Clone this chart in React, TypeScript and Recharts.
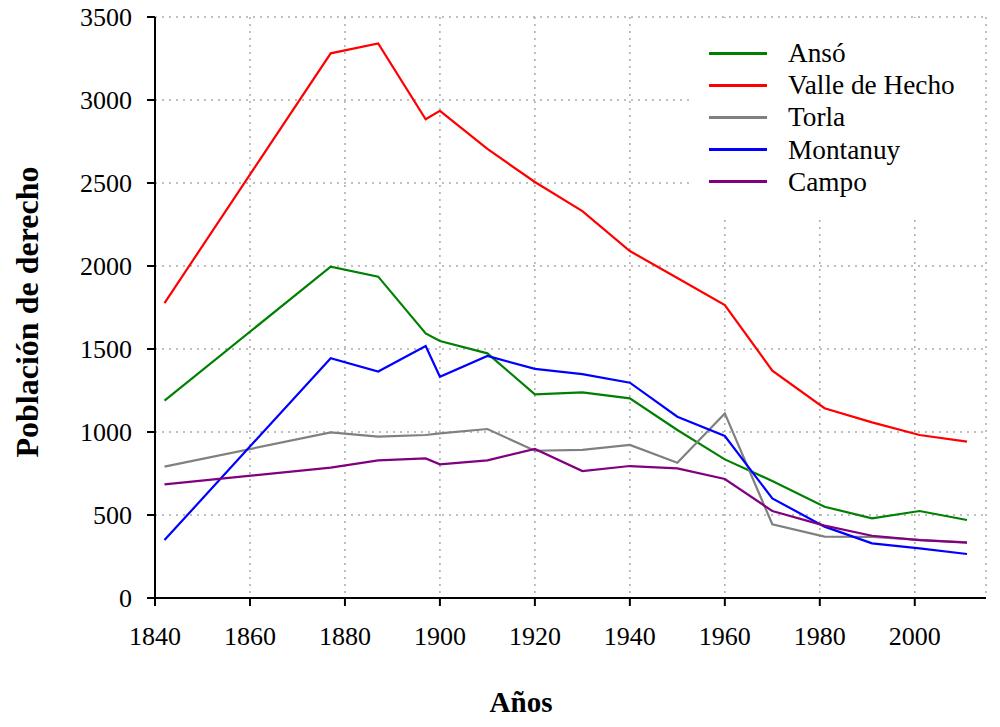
import React from 'react';
import { LineChart, Line, XAxis, YAxis, CartesianGrid, Legend } from 'recharts';

const years = [1842, 1877, 1887, 1897, 1900, 1910, 1920, 1930, 1940, 1950, 1960, 1970, 1981, 1991, 2001, 2011];
const anso = [1189, 1996, 1936, 1594, 1548, 1474, 1227, 1239, 1203, 1012, 835, 705, 550, 480, 524, 470];
const valleHecho = [1777, 3281, 3341, 2884, 2935, 2705, 2506, 2331, 2090, 1928, 1765, 1369, 1143, 1058, 982, 942];
const torla = [791, 998, 972, 982, 992, 1018, 887, 892, 922, 815, 1112, 444, 370, 368, 350, 335];
const montanuy = [349, 1444, 1364, 1518, 1333, 1458, 1380, 1349, 1297, 1092, 976, 600, 430, 329, 299, 265];
const campo = [685, 785, 829, 841, 805, 829, 898, 765, 795, 781, 717, 524, 436, 375, 349, 333];

const seriesKeys = ['anso', 'valle', 'torla', 'montanuy', 'campo'];

const xTicks = [1840, 1860, 1880, 1900, 1920, 1940, 1960, 1980, 2000];
const yTicks = [0, 500, 1000, 1500, 2000, 2500, 3000, 3500];
const xDomain = [1840, 2015];
const yDomain = [0, 3500];

const data = years.map((y, i) => ({
  year: y,
  anso: anso[i],
  valle: valleHecho[i],
  torla: torla[i],
  montanuy: montanuy[i],
  campo: campo[i],
}));

const FONT = '"Liberation Serif", Tinos, "Times New Roman", Times, "DejaVu Serif", serif';

const YTitle = () => (
  <text
    x={27}
    y={312}
    transform="rotate(-90, 27, 312)"
    textAnchor="middle"
    dominantBaseline="central"
    style={{ fontFamily: FONT, fontWeight: 'bold', fontSize: 32 }}
    fill="#000"
  >
    Población de derecho
  </text>
);

const XTitle = () => (
  <text x={521} y={712} textAnchor="middle" style={{ fontFamily: FONT, fontWeight: 'bold', fontSize: 29 }} fill="#000">
    Años
  </text>
);

const renderLegend = (props: any) => {
  const payload = [...(props.payload || [])].sort(
    (a: any, b: any) => seriesKeys.indexOf(a.dataKey) - seriesKeys.indexOf(b.dataKey)
  );
  return (
    <div style={{ position: 'relative', width: 292, height: 197, background: '#fff' }}>
      {payload.map((e: any, i: number) => (
        <div
          key={String(e.value)}
          style={{
            position: 'absolute',
            left: 16,
            top: 19 + i * 32.2,
            height: 32,
            display: 'flex',
            alignItems: 'center',
            whiteSpace: 'nowrap',
          }}
        >
          <div style={{ width: 58, height: 0, borderTop: `3px solid ${e.color}` }} />
          <span style={{ marginLeft: 21, fontFamily: FONT, fontSize: 27.3, color: '#000', lineHeight: '32px' }}>
            {e.value}
          </span>
        </div>
      ))}
    </div>
  );
};

const axisLine = { stroke: '#000', strokeWidth: 2 };
const tickStyle = { fill: '#000', fontSize: 26, style: { fontFamily: FONT } };

export default function App() {
  return (
    <div style={{ position: 'absolute', left: 0, top: 0, width: 1000, height: 727, background: '#fff', fontFamily: FONT }}>
      <LineChart width={1000} height={727} data={data} margin={{ top: 17, right: 14, left: 0, bottom: 0 }} style={{ fontFamily: FONT }}>
        <CartesianGrid stroke="#aaa" strokeDasharray="2 5" strokeWidth={1.5} />
        <XAxis
          dataKey="year"
          type="number"
          domain={xDomain}
          ticks={xTicks}
          height={129}
          axisLine={axisLine}
          tickLine={axisLine}
          tickSize={8}
          tickMargin={21}
          tick={tickStyle}
          label={<XTitle />}
        />
        <XAxis
          xAxisId="top"
          orientation="top"
          type="number"
          domain={xDomain}
          ticks={xTicks}
          height={0}
          mirror
          axisLine={axisLine}
          tickLine={axisLine}
          tickSize={8}
          tick={false}
        />
        <YAxis
          type="number"
          domain={yDomain}
          ticks={yTicks}
          width={155}
          axisLine={axisLine}
          tickLine={axisLine}
          tickSize={8}
          tickMargin={15}
          tick={tickStyle}
          label={<YTitle />}
        />
        <YAxis
          yAxisId="right"
          orientation="right"
          type="number"
          domain={yDomain}
          ticks={yTicks}
          width={0}
          mirror
          axisLine={axisLine}
          tickLine={axisLine}
          tickSize={9}
          tick={false}
        />
        <Line type="linear" dataKey="anso" name="Ansó" stroke="#008000" strokeWidth={2.2} dot={false} isAnimationActive={false} />
        <Line type="linear" dataKey="valle" name="Valle de Hecho" stroke="#ff0000" strokeWidth={2.2} dot={false} isAnimationActive={false} />
        <Line type="linear" dataKey="torla" name="Torla" stroke="#808080" strokeWidth={2.2} dot={false} isAnimationActive={false} />
        <Line type="linear" dataKey="montanuy" name="Montanuy" stroke="#0000ff" strokeWidth={2.2} dot={false} isAnimationActive={false} />
        <Line type="linear" dataKey="campo" name="Campo" stroke="#800080" strokeWidth={2.2} dot={false} isAnimationActive={false} />
        <Legend
          layout="vertical"
          align="center"
          verticalAlign="middle"
          content={renderLegend}
          wrapperStyle={{ position: 'absolute', left: 693, top: 18, width: 292, height: 197 }}
        />
      </LineChart>
    </div>
  );
}
